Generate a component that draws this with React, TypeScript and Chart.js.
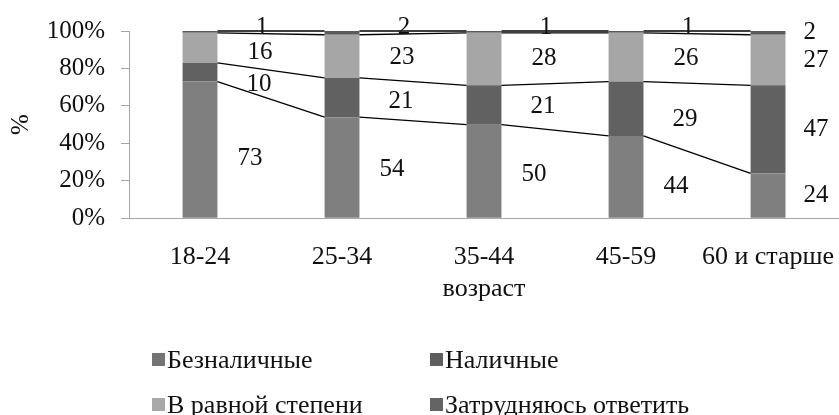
import { useEffect, useRef } from 'react';
import { Chart, registerables } from 'chart.js';

Chart.register(...registerables);

// Payment preference by age group, % of respondents
const ageGroups = ['18-24', '25-34', '35-44', '45-59', '60 и старше'];
const cashless = [73, 54, 50, 44, 24];
const cash = [10, 21, 21, 29, 47];
const equally = [16, 23, 28, 26, 27];
const undecided = [1, 2, 1, 1, 2];
const seriesNames = ['Безналичные', 'Наличные', 'В равной степени', 'Затрудняюсь ответить'];
const yTicks = [0, 20, 40, 60, 80, 100];

const FONT = "'Liberation Serif', 'Times New Roman', serif";
const TEXT = '#111';
const AXIS = '#a6a6a6';
const barColors = ['#7f7f7f', '#616161', '#a6a6a6', '#5a5a5a'];
const legendColors = ['#747474', '#5e5e5e', '#a8a8a8', '#646464'];

// horizontal nudge of the in-gap value labels, per series
const labelShift = [-21, -12, -11, -9];

// Excel-style series lines joining the tops of neighbouring segments
const seriesLinesPlugin = {
  id: 'seriesLines',
  afterDatasetsDraw(chart: any) {
    const { ctx } = chart;
    ctx.save();
    ctx.strokeStyle = '#000';
    ctx.lineWidth = 1.3;
    chart.data.datasets.forEach((_: any, d: number) => {
      const pts = chart.getDatasetMeta(d).data;
      for (let i = 0; i < pts.length - 1; i++) {
        const a = pts[i];
        const b = pts[i + 1];
        ctx.beginPath();
        ctx.moveTo(a.x + a.width / 2, a.y);
        ctx.lineTo(b.x - b.width / 2, b.y);
        ctx.stroke();
      }
    });
    ctx.restore();
  },
};

// value labels placed in the gaps between bars, following the series lines
const valueLabelsPlugin = {
  id: 'valueLabels',
  afterDatasetsDraw(chart: any) {
    const { ctx } = chart;
    const y = chart.scales.y;
    const sets = chart.data.datasets.map((ds: any) => ds.data as number[]);
    const n = sets[0].length;
    const cumTop = (d: number, i: number) => {
      let s = 0;
      for (let k = 0; k <= d; k++) s += sets[k][i];
      return s;
    };
    const cumBottom = (d: number, i: number) => cumTop(d, i) - sets[d][i];
    ctx.save();
    ctx.fillStyle = TEXT;
    ctx.font = `25px ${FONT}`;
    sets.forEach((vals: number[], d: number) => {
      const pts = chart.getDatasetMeta(d).data;
      const isTop = d === sets.length - 1;
      for (let i = 0; i < n; i++) {
        const txt = String(vals[i]);
        const el = pts[i];
        if (i < n - 1) {
          const nx = pts[i + 1];
          const gx = (el.x + el.width / 2 + nx.x - nx.width / 2) / 2 + labelShift[d];
          ctx.textAlign = 'center';
          if (isTop) {
            ctx.textBaseline = 'alphabetic';
            ctx.fillText(txt, gx, y.getPixelForValue(cumTop(d, i)) + 2.5);
          } else {
            const lo = (cumBottom(d, i) + cumBottom(d, i + 1)) / 2;
            const hi = (cumTop(d, i) + cumTop(d, i + 1)) / 2;
            ctx.textBaseline = 'middle';
            ctx.fillText(txt, gx, y.getPixelForValue((lo + hi) / 2));
          }
        } else {
          ctx.textAlign = 'left';
          ctx.textBaseline = 'middle';
          const mid = (cumBottom(d, i) + cumTop(d, i)) / 2;
          ctx.fillText(txt, el.x + el.width / 2 + 18, y.getPixelForValue(mid));
        }
      }
    });
    ctx.restore();
  },
};

// two-column legend under the axis title
const gridLegendPlugin = {
  id: 'gridLegend',
  afterDraw(chart: any) {
    const { ctx } = chart;
    const cols = [152, 430];
    const rows = [360, 405];
    ctx.save();
    ctx.font = `26px ${FONT}`;
    ctx.textAlign = 'left';
    ctx.textBaseline = 'middle';
    chart.data.datasets.forEach((ds: any, d: number) => {
      const x = cols[d % 2];
      const cy = rows[Math.floor(d / 2)];
      ctx.fillStyle = legendColors[d];
      ctx.fillRect(x, cy - 7, 13, 13);
      ctx.fillStyle = TEXT;
      ctx.fillText(ds.label, x + 15, cy + 1);
    });
    ctx.restore();
  },
};

export default function App() {
  const canvasRef = useRef<HTMLCanvasElement | null>(null);

  useEffect(() => {
    if (!canvasRef.current) return;
    Chart.defaults.font.family = FONT;
    Chart.defaults.color = TEXT;
    const series = [cashless, cash, equally, undecided];
    const chart = new Chart(canvasRef.current, {
      type: 'bar',
      data: {
        labels: ageGroups,
        datasets: series.map((data, d) => ({
          label: seriesNames[d],
          data,
          backgroundColor: barColors[d],
          borderWidth: 0,
          categoryPercentage: 1,
          barPercentage: 0.2456,
        })),
      },
      options: {
        responsive: false,
        animation: false,
        events: [],
        layout: { padding: { top: 29.3, bottom: 110.7, left: 0, right: 8.5 } },
        plugins: {
          legend: { display: false },
          tooltip: { enabled: false },
        },
        scales: {
          x: {
            stacked: true,
            offset: true,
            grid: { display: false },
            border: { display: true, color: AXIS, width: 1 },
            ticks: { font: { size: 26 }, padding: 15, color: TEXT, maxRotation: 0, autoSkip: false },
            title: { display: true, text: 'возраст', font: { size: 26 }, color: TEXT, padding: { top: 0, bottom: 0 } },
            afterFit: (s: any) => {
              s.height = 86;
            },
          },
          y: {
            stacked: true,
            min: 0,
            max: 100,
            grid: { display: true, drawOnChartArea: false, drawTicks: true, tickLength: 8, color: AXIS },
            border: { display: true, color: AXIS, width: 1 },
            afterBuildTicks: (s: any) => {
              s.ticks = yTicks.map((v) => ({ value: v }));
            },
            ticks: {
              font: { size: 25 },
              padding: 16,
              color: TEXT,
              callback: (v: any) => `${v}%`,
            },
            title: { display: true, text: '%', font: { size: 25 }, color: TEXT, padding: { top: 6, bottom: 0 } },
            afterFit: (s: any) => {
              s.width = 129;
            },
          },
        },
      },
      plugins: [seriesLinesPlugin, valueLabelsPlugin, gridLegendPlugin],
    });
    return () => chart.destroy();
  }, []);

  return (
    <div
      style={{
        position: 'absolute',
        left: 0,
        top: 0,
        width: 839,
        height: 415,
        overflow: 'hidden',
        background: '#fff',
      }}
    >
      <canvas ref={canvasRef} width={850} height={415} />
    </div>
  );
}
